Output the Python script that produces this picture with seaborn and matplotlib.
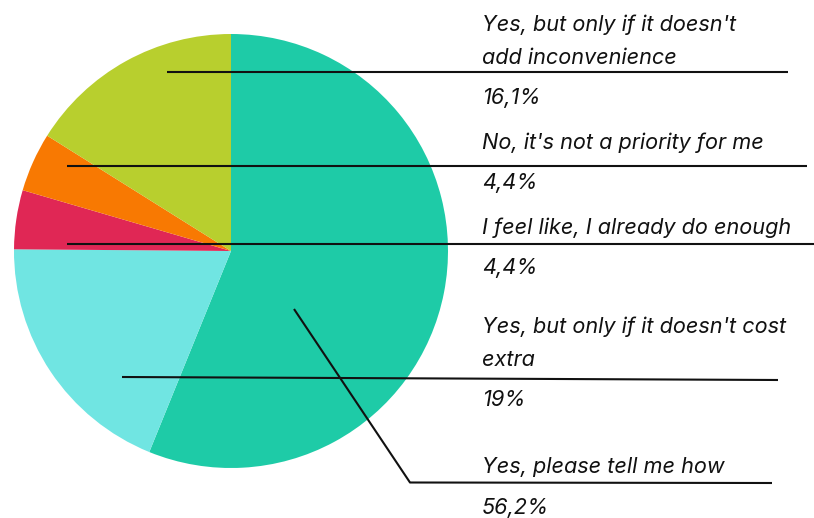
import matplotlib
matplotlib.use("Agg")
import matplotlib.pyplot as plt
import seaborn as sns

# ---- data ----
answers = [
    "Yes, please tell me how",
    "Yes, but only if it doesn't cost\nextra",
    "I feel like, I already do enough",
    "No, it's not a priority for me",
    "Yes, but only if it doesn't\nadd inconvenience",
]
shares = [56.2, 19.0, 4.4, 4.4, 16.1]
share_labels = ["56,2%", "19%", "4,4%", "4,4%", "16,1%"]
colors = ["#1ECBA7", "#70E5E2", "#E02755", "#F87902", "#B8CF2E"]

sns.set_theme(style="white")
plt.rcParams["font.family"] = ["Inter", "DejaVu Sans"]

W, H = 814, 518
fig = plt.figure(figsize=(W / 100, H / 100), dpi=100)
ax = fig.add_axes([0, 0, 1, 1])

def Y(y):
    return H - y

cx, cy, r = 231, 251, 217
ax.pie(shares, colors=colors, startangle=90, counterclock=False,
       center=(cx, Y(cy)), radius=r, frame=True,
       wedgeprops=dict(linewidth=0))
ax.set_xlim(0, W)
ax.set_ylim(0, H)
ax.set_aspect("auto")
ax.axis("off")

# leader lines (pixel layout) per slice, same order as data
leaders = [
    [(294, 309), (410, 482.5), (772, 483)],
    [(122, 377), (778, 380)],
    [(67, 243.5), (814, 243.5)],
    [(67, 165.5), (807, 165.5)],
    [(167, 72), (788, 72)],
]
# text anchors: (y of last label line center, y of percent center)
text_pos = [
    (467, 508),
    (360, 400),
    (228, 268),
    (143, 183),
    (58, 98),
]
tx = 482
lh = 33
fs = 15.6
for i, pts in enumerate(leaders):
    xs = [p[0] for p in pts]
    ys = [Y(p[1]) for p in pts]
    ax.plot(xs, ys, color="#111111", lw=1.5, solid_capstyle="butt", zorder=5)
    lines = answers[i].split("\n")
    ylast, yp = text_pos[i]
    for k, line in enumerate(lines):
        yy = ylast - (len(lines) - 1 - k) * lh
        ax.text(tx, Y(yy), line, fontsize=fs, style="italic",
                color="#111111", va="center", ha="left")
    ax.text(tx, Y(yp), share_labels[i], fontsize=fs, style="italic",
            color="#111111", va="center", ha="left")

fig.savefig("out.png", dpi=100)
